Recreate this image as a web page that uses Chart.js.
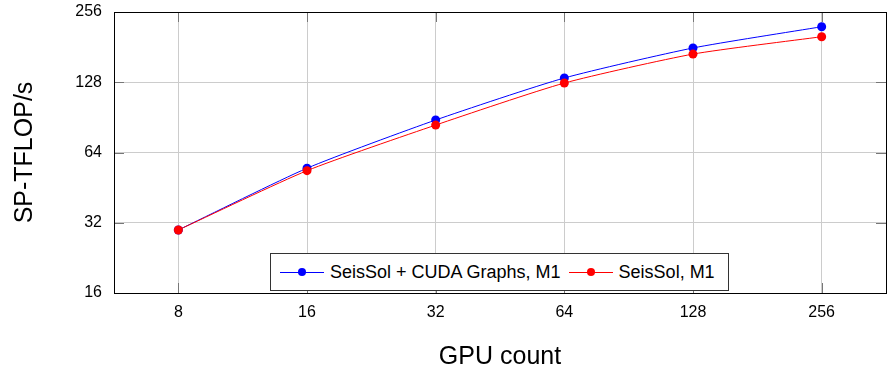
<!DOCTYPE html>
<html>
<head>
<meta charset="utf-8">
<script src="https://cdn.jsdelivr.net/npm/chart.js@4"></script>
<style>
  html, body { margin: 0; padding: 0; background: #fff; }
  #wrap { position: relative; width: 892px; height: 372px; }
  #legend {
    position: absolute; left: 270px; top: 253px; width: 459px; height: 38px; box-sizing: border-box;
    border: 1px solid #333; background: #fff;
    display: flex; align-items: center; padding: 0 0 0 9px;
    font-family: "Liberation Sans", Arial, sans-serif; font-size: 18px; color: #000;
  }
  .item { display: flex; align-items: center; margin-right: 8px; white-space: nowrap; }
  .item:last-child { margin-right: 0; }
  .sample { position: relative; width: 44px; height: 10px; margin-right: 6px; }
  .sample .ln { position: absolute; left: 0; right: 0; top: 4.5px; height: 1px; }
  .sample .dt { position: absolute; left: 18px; top: 1px; width: 8px; height: 8px; border-radius: 50%; }
</style>
</head>
<body>
<div id="wrap">
  <canvas id="perf_chart" width="892" height="372"></canvas>
  <div id="legend"></div>
</div>
<script>
// GPU数（横軸）
var gpuCounts = ['8', '16', '32', '64', '128', '256'];
// 縦軸の目盛り
var yTicks = [16, 32, 64, 128, 256];
// 系列名
var seriesNames = ['SeisSol + CUDA Graphs, M1', 'SeisSol, M1'];
// 各系列の値 (SP-TFLOP/s)
var cudaGraphsValues = [29.8, 54.8, 88.2, 133.5, 179.5, 221.4];
var seisSolValues = [29.8, 53.5, 83.9, 127, 169, 200.6];

var colors = ['#0000ff', '#ff0000'];
var fontFamily = '"Liberation Sans", Arial, sans-serif';

// 枠線を描くプラグイン
var framePlugin = {
  id: 'frame',
  afterDraw: function (chart) {
    var a = chart.chartArea;
    var ctx = chart.ctx;
    ctx.save();
    // 内側の目盛り線
    ctx.strokeStyle = '#777';
    ctx.lineWidth = 1;
    ctx.beginPath();
    chart.scales.y.ticks.forEach(function (t) {
      var y = Math.round(chart.scales.y.getPixelForValue(t.value)) + 0.5;
      ctx.moveTo(a.left, y); ctx.lineTo(a.left + 10, y);
      ctx.moveTo(a.right, y); ctx.lineTo(a.right - 10, y);
    });
    chart.scales.x.ticks.forEach(function (t, i) {
      var x = Math.round(chart.scales.x.getPixelForTick(i)) + 0.5;
      ctx.moveTo(x, a.bottom); ctx.lineTo(x, a.bottom - 10);
      ctx.moveTo(x, a.top); ctx.lineTo(x, a.top + 10);
    });
    ctx.stroke();
    ctx.strokeStyle = '#000';
    ctx.strokeRect(Math.round(a.left) + 0.5, Math.round(a.top) + 0.5,
      Math.round(a.right - a.left), Math.round(a.bottom - a.top));
    ctx.restore();
  }
};

var ctx = document.getElementById('perf_chart');
var config = {
  type: 'line',
  data: {
    labels: gpuCounts,
    datasets: [{
      label: seriesNames[0],
      data: cudaGraphsValues,
      borderColor: colors[0],
      backgroundColor: colors[0],
      borderWidth: 1,
      pointRadius: 4.5,
      pointBorderWidth: 0,
      tension: 0.2,
      order: 1
    }, {
      label: seriesNames[1],
      data: seisSolValues,
      borderColor: colors[1],
      backgroundColor: colors[1],
      borderWidth: 1,
      pointRadius: 4.5,
      pointBorderWidth: 0,
      tension: 0.2,
      order: 0
    }]
  },
  options: {
    responsive: false,
    animation: false,
    layout: { padding: { left: 0, right: 6, top: 12, bottom: 0 } },
    plugins: { legend: { display: false }, tooltip: { enabled: false } },
    scales: {
      x: {
        type: 'category',
        offset: true,
        grid: { color: '#cccccc', drawTicks: false, offset: false },
        border: { display: false },
        ticks: { color: '#000', padding: 10, font: { family: fontFamily, size: 16 } },
        title: { display: true, text: 'GPU count', color: '#000', padding: { top: 0, bottom: 0 }, font: { family: fontFamily, size: 25 } },
        afterFit: function (scale) { scale.height = 79; scale.paddingLeft = 0; scale.paddingRight = 0; }
      },
      y: {
        type: 'logarithmic',
        min: 16,
        max: 256,
        grid: { color: '#cccccc', drawTicks: false },
        border: { display: false },
        afterBuildTicks: function (axis) {
          axis.ticks = yTicks.map(function (v) { return { value: v }; });
        },
        ticks: {
          color: '#000', padding: 12,
          font: { family: fontFamily, size: 16 },
          callback: function (v) { return String(v); }
        },
        title: { display: true, text: 'SP-TFLOP/s', color: '#000', padding: { top: 10, bottom: 0 }, font: { family: fontFamily, size: 25 } },
        afterFit: function (scale) { scale.width = 114; scale.paddingTop = 0; scale.paddingBottom = 0; }
      }
    }
  },
  plugins: [framePlugin]
};
var perfChart = new Chart(ctx, config);

// 凡例をHTMLで作成
var legend = document.getElementById('legend');
config.data.datasets.forEach(function (ds) {
  var item = document.createElement('div');
  item.className = 'item';
  var sample = document.createElement('div');
  sample.className = 'sample';
  var ln = document.createElement('div');
  ln.className = 'ln';
  ln.style.background = ds.borderColor;
  var dt = document.createElement('div');
  dt.className = 'dt';
  dt.style.background = ds.backgroundColor;
  sample.appendChild(ln);
  sample.appendChild(dt);
  var txt = document.createElement('span');
  txt.textContent = ds.label;
  item.appendChild(sample);
  item.appendChild(txt);
  legend.appendChild(item);
});
</script>
</body>
</html>
